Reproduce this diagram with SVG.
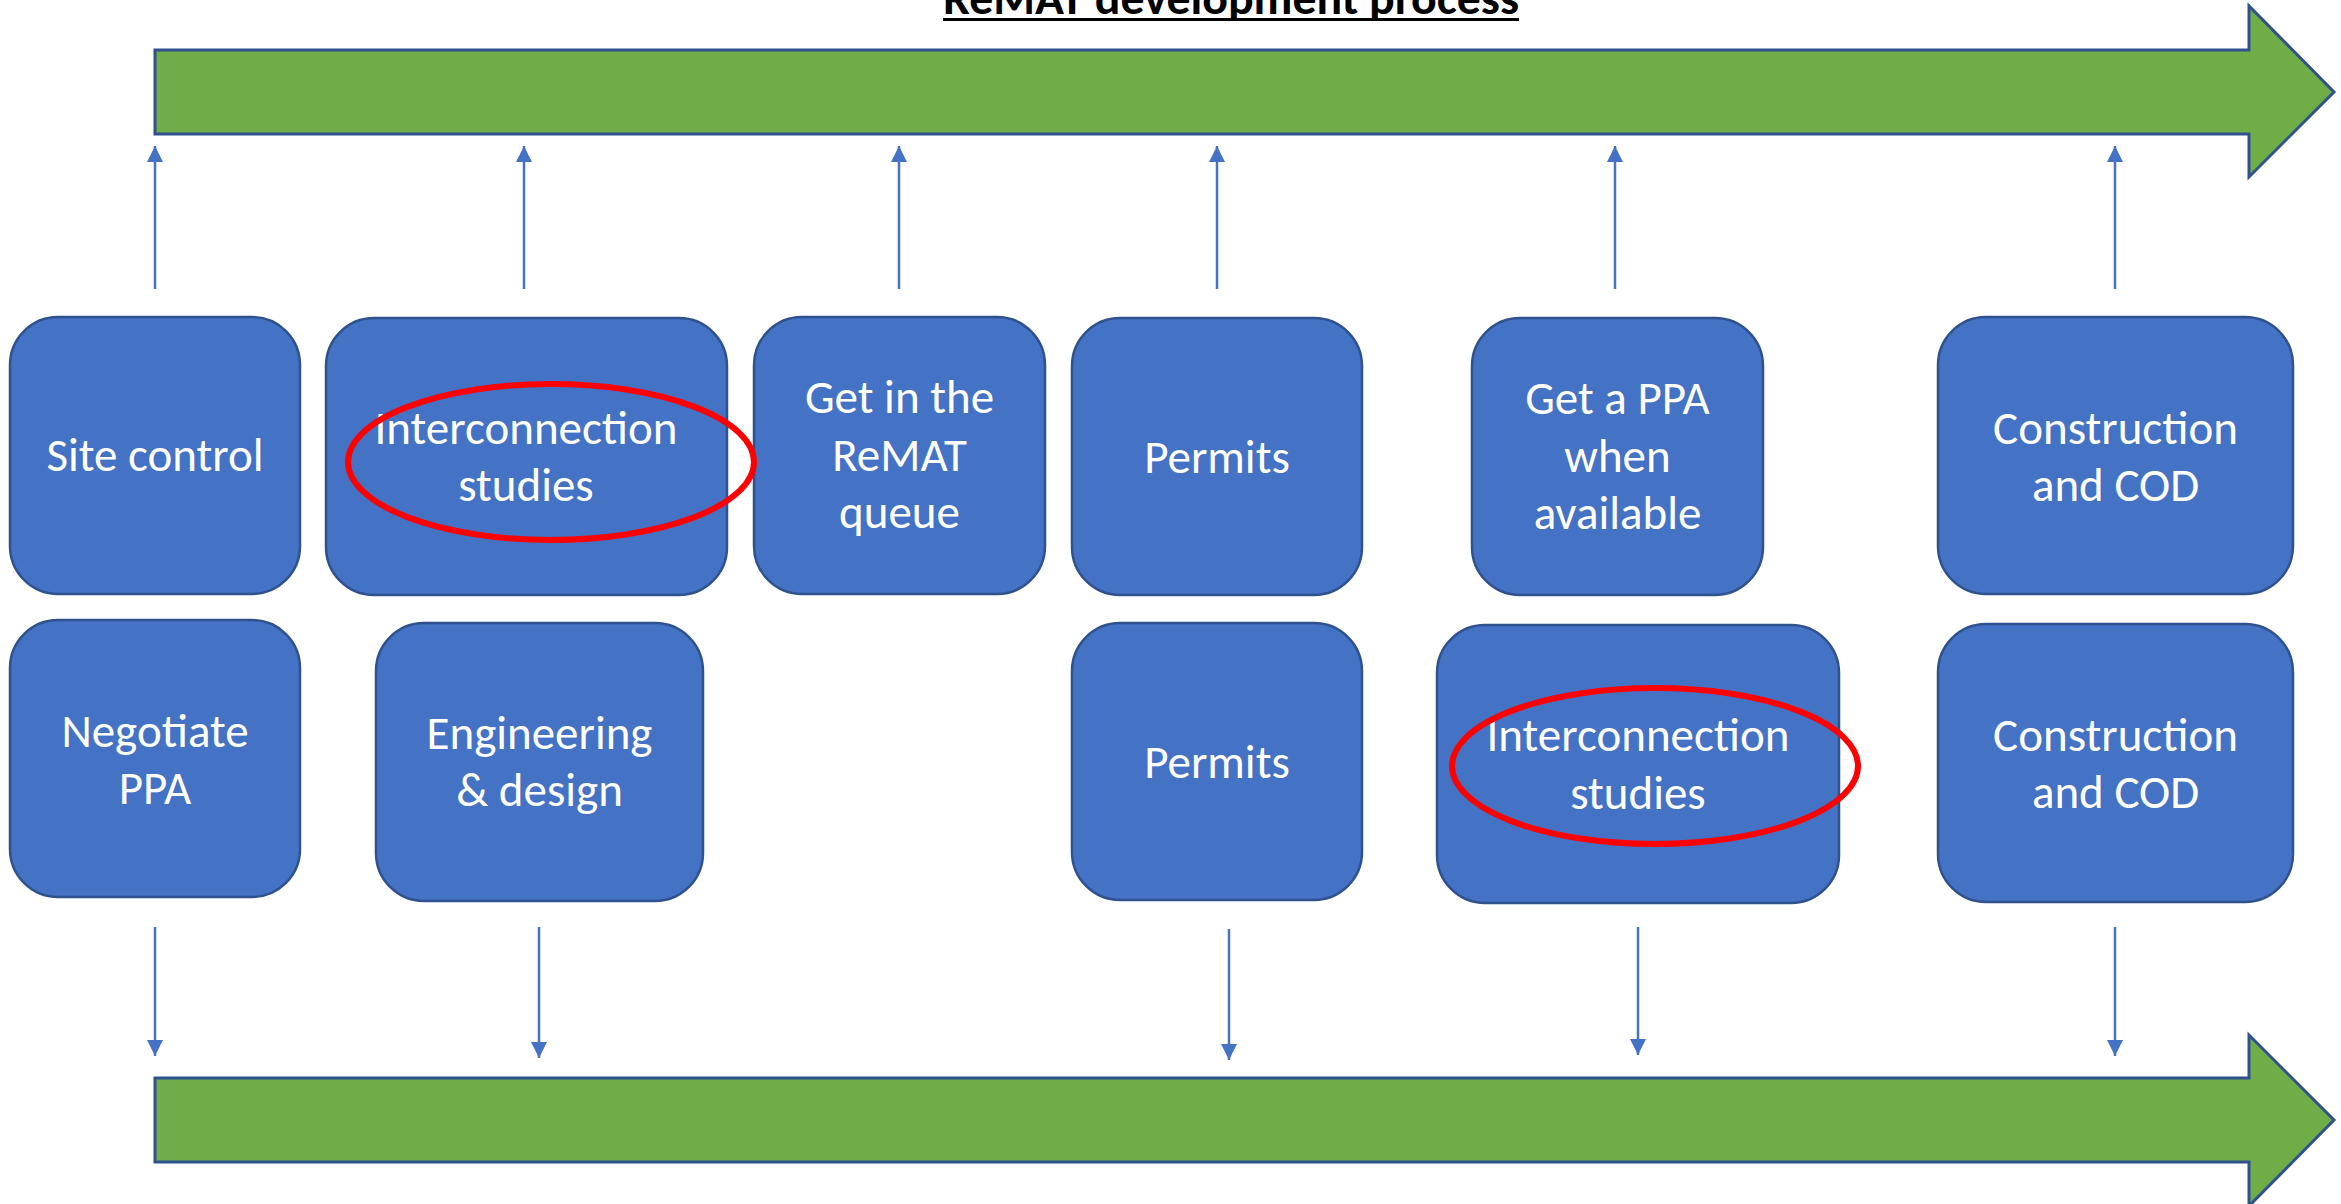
<svg xmlns="http://www.w3.org/2000/svg" width="2341" height="1204" viewBox="0 0 2341 1204">
<style>
.bg{fill:#ffffff}
.band{fill:#70AD47;stroke:#2F528F;stroke-width:3;stroke-linejoin:miter}
.box{fill:#4472C4;stroke:#2F528F;stroke-width:2.5}
.lbl{font-family:Carlito,Lato,"Open Sans",sans-serif;font-size:47px;fill:#ffffff;text-anchor:middle}
.title{font-family:Carlito,Lato,"Liberation Sans",sans-serif;font-size:46px;font-weight:bold;fill:#000000}
.conn{stroke:#4472C4;stroke-width:2.5;fill:none}
.ring{fill:none;stroke:#FF0000;stroke-width:6}
</style>
<defs>
<marker id="ah" markerUnits="userSpaceOnUse" markerWidth="16" markerHeight="17" refX="16" refY="8" orient="auto">
<path d="M0,0 L16,8 L0,16 Z" fill="#4472C4"/>
</marker>
</defs>
<rect class="bg" x="0" y="0" width="2341" height="1204"/>

<g id="title">
<text class="title" x="943" y="14" textLength="576" lengthAdjust="spacingAndGlyphs">ReMAT development process</text>
<rect x="943" y="18" width="576" height="3" fill="#000000"/>
</g>

<g id="band-top">
<polygon class="band" points="155,50 2249,50 2249,6 2334,92 2249,177 2249,134 155,134"/>
</g>
<g id="band-bottom">
<polygon class="band" points="155,1078 2249,1078 2249,1035 2334,1120 2249,1206 2249,1162 155,1162"/>
</g>

<g id="connectors">
<line class="conn" x1="155" y1="289" x2="155" y2="146" marker-end="url(#ah)"/>
<line class="conn" x1="524" y1="289" x2="524" y2="146" marker-end="url(#ah)"/>
<line class="conn" x1="899" y1="289" x2="899" y2="146" marker-end="url(#ah)"/>
<line class="conn" x1="1217" y1="289" x2="1217" y2="146" marker-end="url(#ah)"/>
<line class="conn" x1="1615" y1="289" x2="1615" y2="146" marker-end="url(#ah)"/>
<line class="conn" x1="2115" y1="289" x2="2115" y2="146" marker-end="url(#ah)"/>
<line class="conn" x1="155" y1="927" x2="155" y2="1056" marker-end="url(#ah)"/>
<line class="conn" x1="539" y1="927" x2="539" y2="1058" marker-end="url(#ah)"/>
<line class="conn" x1="1229" y1="929" x2="1229" y2="1060" marker-end="url(#ah)"/>
<line class="conn" x1="1638" y1="927" x2="1638" y2="1055" marker-end="url(#ah)"/>
<line class="conn" x1="2115" y1="927" x2="2115" y2="1056" marker-end="url(#ah)"/>
</g>

<g id="site-control">
<rect class="box" x="10" y="317" width="290" height="277" rx="48" ry="48"/>
<text class="lbl" x="155" y="471">Site control</text>
</g>
<g id="interconnection-1">
<rect class="box" x="326" y="318" width="401" height="277" rx="48" ry="48"/>
<text class="lbl" x="526" y="444">Interconnection</text>
<text class="lbl" x="526" y="501">studies</text>
</g>
<g id="remat-queue">
<rect class="box" x="754" y="317" width="291" height="277" rx="48" ry="48"/>
<text class="lbl" x="899.5" y="413">Get in the</text>
<text class="lbl" x="899.5" y="471">ReMAT</text>
<text class="lbl" x="899.5" y="528">queue</text>
</g>
<g id="permits-1">
<rect class="box" x="1072" y="318" width="290" height="277" rx="48" ry="48"/>
<text class="lbl" x="1217" y="473">Permits</text>
</g>
<g id="get-ppa">
<rect class="box" x="1472" y="318" width="291" height="277" rx="48" ry="48"/>
<text class="lbl" x="1617.5" y="414">Get a PPA</text>
<text class="lbl" x="1617.5" y="472">when</text>
<text class="lbl" x="1617.5" y="529">available</text>
</g>
<g id="construction-1">
<rect class="box" x="1938" y="317" width="355" height="277" rx="48" ry="48"/>
<text class="lbl" x="2115.5" y="444">Construction</text>
<text class="lbl" x="2115.5" y="501">and COD</text>
</g>

<g id="negotiate-ppa">
<rect class="box" x="10" y="620" width="290" height="277" rx="48" ry="48"/>
<text class="lbl" x="155" y="747">Negotiate</text>
<text class="lbl" x="155" y="804">PPA</text>
</g>
<g id="engineering">
<rect class="box" x="376" y="623" width="327" height="278" rx="48" ry="48"/>
<text class="lbl" x="539.5" y="749">Engineering</text>
<text class="lbl" x="539.5" y="806">&amp; design</text>
</g>
<g id="permits-2">
<rect class="box" x="1072" y="623" width="290" height="277" rx="48" ry="48"/>
<text class="lbl" x="1217" y="778">Permits</text>
</g>
<g id="interconnection-2">
<rect class="box" x="1437" y="625" width="402" height="278" rx="48" ry="48"/>
<text class="lbl" x="1638" y="751">Interconnection</text>
<text class="lbl" x="1638" y="809">studies</text>
</g>
<g id="construction-2">
<rect class="box" x="1938" y="624" width="355" height="278" rx="48" ry="48"/>
<text class="lbl" x="2115.5" y="751">Construction</text>
<text class="lbl" x="2115.5" y="808">and COD</text>
</g>

<g id="highlights">
<ellipse class="ring" cx="551" cy="462" rx="203" ry="78"/>
<ellipse class="ring" cx="1655" cy="766" rx="203" ry="78"/>
</g>
</svg>
